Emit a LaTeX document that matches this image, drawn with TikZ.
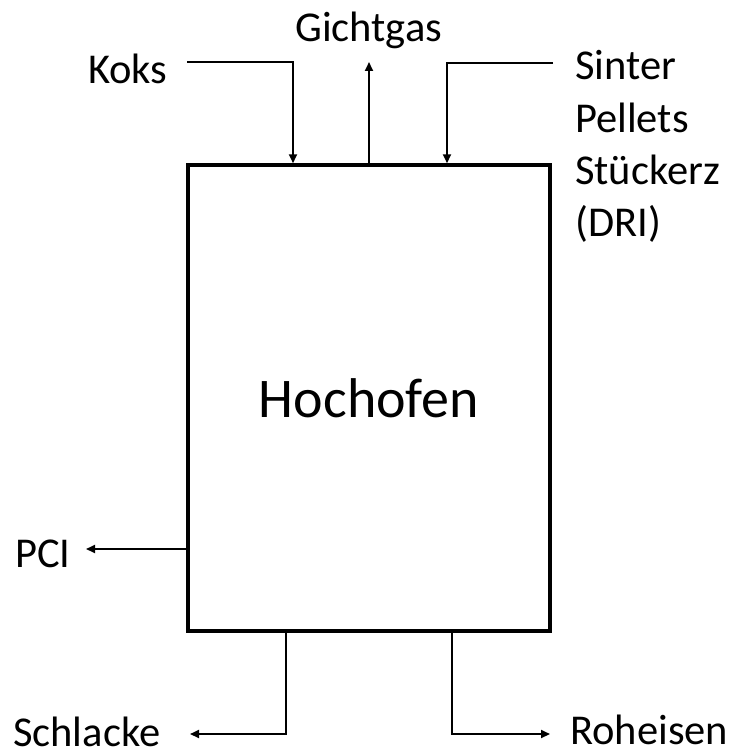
\documentclass[tikz,border=0pt]{standalone}
\usepackage{fontspec}
\setmainfont{Carlito}
\usetikzlibrary{arrows.meta,calc}
\begin{document}
\begin{tikzpicture}[x=1pt,y=-1pt,
  lbl/.style={anchor=base west, inner sep=0pt, font=\fontsize{42.5}{52}\selectfont},
  flow/.style={line width=2pt, -{Triangle[length=9pt,width=8pt]}},
  furnace/.style={draw, line width=3.5pt, minimum width=362pt, minimum height=466pt,
    inner sep=0pt, font=\fontsize{56}{67}\selectfont}]
\useasboundingbox[fill=white] (0,0) rectangle (734,749);

% blast furnace
\node[furnace] (ofen) at (369,398) {Hochofen};

% labels
\node[lbl] (koks) at (88,84) {Koks};
\node[lbl] (gichtgas) at (295,42) {Gichtgas};
\node[lbl] (sinter) at (575,80) {Sinter};
\node[lbl] (pellets) at (575,132) {Pellets};
\node[lbl] (stueckerz) at (575,184) {Stückerz};
\node[lbl] (dri) at (575,236) {(DRI)};
\node[lbl] (pci) at (15,567) {PCI};
\node[lbl] (schlacke) at (13,746) {Schlacke};
\node[lbl] (roheisen) at (570,744) {Roheisen};

% free ends of the streams
\coordinate (kokssrc) at (187,62);
\coordinate (gasout) at (370,62);
\coordinate (sintersrc) at (553,63);
\coordinate (pciout) at (86,549);
\coordinate (slagout) at (190,734);
\coordinate (ironout) at (550,734);

% streams
\draw[flow] (kokssrc) -| ([xshift=-76pt]ofen.north);
\draw[flow] (ofen.north) -- (ofen.north |- gasout);
\draw[flow] (sintersrc) -| ([xshift=78pt]ofen.north);
\draw[flow] ([yshift=-151pt]ofen.west) -- (pciout);
\draw[flow] ([xshift=-83pt]ofen.south) |- (slagout);
\draw[flow] ([xshift=83pt]ofen.south) |- (ironout);
\end{tikzpicture}
\end{document}
